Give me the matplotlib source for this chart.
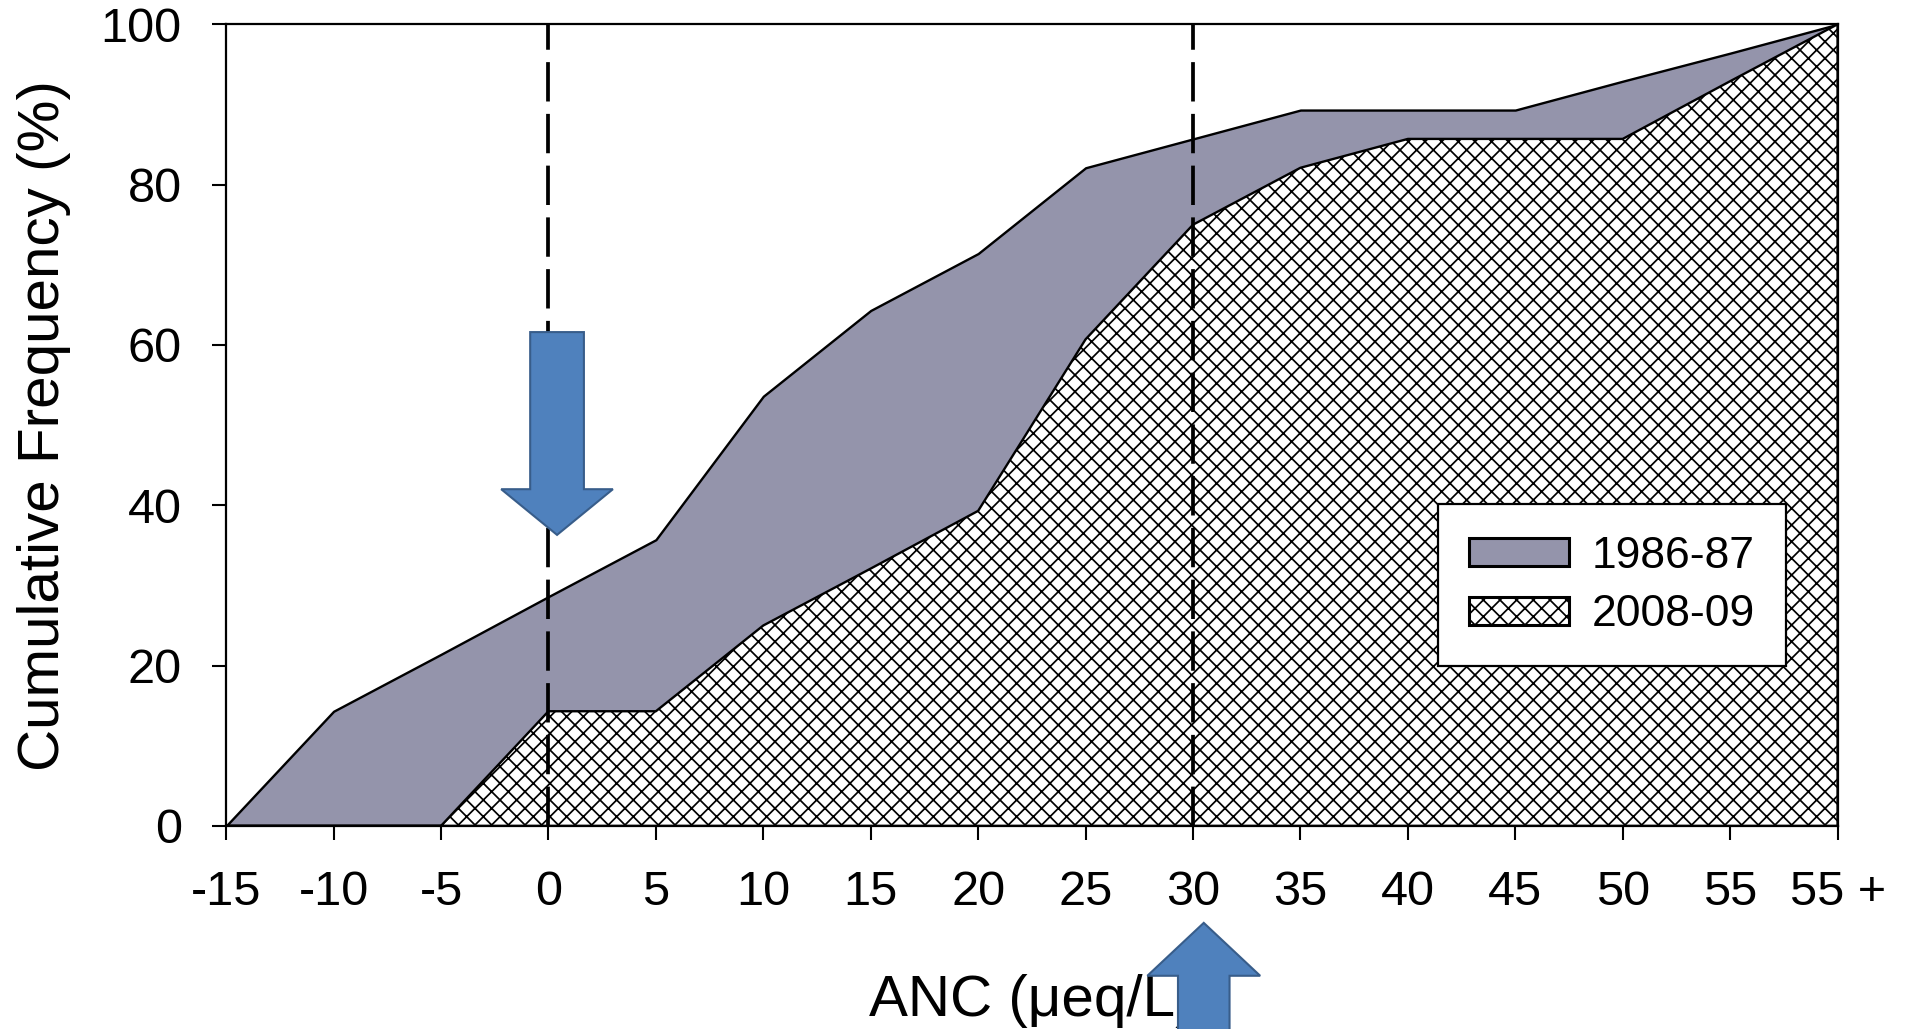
"""Cumulative frequency of ANC, 1986-87 vs 2008-09, with threshold markers."""
import matplotlib
matplotlib.use('Agg')
import matplotlib.pyplot as plt
from matplotlib.patches import FancyArrow, Patch
import numpy as np

plt.rcParams['font.family'] = ['Liberation Sans', 'DejaVu Sans']
plt.rcParams['hatch.linewidth'] = 1.25

# ANC classes (ueq/L) and cumulative frequency (%)
anc_labels = ['-15', '-10', '-5', '0', '5', '10', '15', '20', '25', '30',
              '35', '40', '45', '50', '55', '55 +']
freq_1986 = [0, 14.3, 21.4, 28.6, 35.7, 53.6, 64.3, 71.4, 82.1, 85.7,
             89.3, 89.3, 89.3, 92.9, 96.4, 100]
freq_2008 = [0, 0, 0, 14.3, 14.3, 25.0, 32.1, 39.3, 60.7, 75.0,
             82.1, 85.7, 85.7, 85.7, 92.9, 100]
thresholds = ['0', '30']

x = np.arange(len(anc_labels))

fig = plt.figure(figsize=(19.07, 10.29), dpi=100)
ax = fig.add_axes([0.1186, 0.1974, 0.845, 0.779])

old_color = '#9494AB'
ax.fill_between(x, 0, freq_1986, facecolor=old_color, edgecolor='black',
                linewidth=1.7, zorder=2)
ax.fill_between(x, 0, freq_2008, facecolor='white', edgecolor='black',
                hatch='xx', linewidth=1.7, zorder=3)

# threshold lines
for t in thresholds:
    ax.axvline(anc_labels.index(t), color='black', lw=2.7,
               linestyle=(0, (10.5, 3.3)), zorder=4)

ax.set_xlim(0, len(anc_labels) - 1)
ax.set_ylim(0, 100)
ax.set_xticks(x)
ax.set_xticklabels(anc_labels)
ax.set_yticks([0, 20, 40, 60, 80, 100])
ax.tick_params(axis='both', labelsize=35, length=10, width=1.5,
               direction='out', pad=22)
for s in ax.spines.values():
    s.set_linewidth(1.6)
    s.set_zorder(5)

ax.text(-0.113, 0.5, 'Cumulative Frequency (%)', transform=ax.transAxes,
        rotation=90, ha='center', va='center', fontsize=42)
ax.text(0.5, -0.237, 'ANC (\u03bceq/L)', transform=ax.transAxes,
        ha='center', va='baseline', fontsize=42)

# blue arrows
arrow_fc = '#4F81BD'
arrow_ec = '#385D8A'
down = FancyArrow(3.08, 61.6, 0, 36.3 - 61.6, width=0.5, head_width=1.04,
                  head_length=5.7, length_includes_head=True,
                  facecolor=arrow_fc, edgecolor=arrow_ec, lw=1.5, zorder=6)
ax.add_patch(down)
up = FancyArrow(9.10, -40, 0, 40 - 12.1, width=0.48, head_width=1.05,
                head_length=6.6, length_includes_head=True,
                facecolor=arrow_fc, edgecolor=arrow_ec, lw=1.5, zorder=6,
                clip_on=False)
ax.add_patch(up)

handles = [Patch(facecolor=old_color, edgecolor='black', linewidth=2.2),
           Patch(facecolor='white', edgecolor='black', hatch='xx', linewidth=2.2)]
leg = ax.legend(handles, ['1986-87', '2008-09'], loc='center',
                bbox_to_anchor=(0.86, 0.30), fontsize=32, frameon=True,
                fancybox=False, edgecolor='black', framealpha=1,
                borderpad=0.7, handlelength=2.25, handleheight=0.6,
                handletextpad=0.5, labelspacing=0.4, borderaxespad=0)
leg.get_frame().set_linewidth(1.6)
leg.set_zorder(7)

plt.savefig('out.png', dpi=100)
plt.close()
